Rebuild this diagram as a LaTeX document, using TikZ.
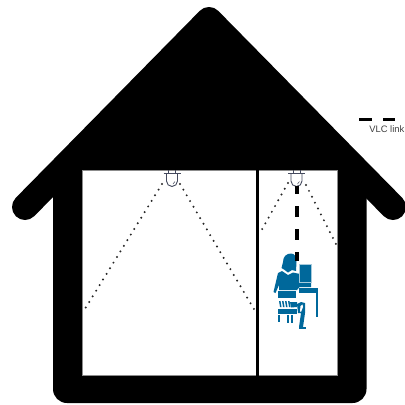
\documentclass[tikz,border=0pt]{standalone}
\usepackage{fontspec}
\setmainfont{Liberation Sans}
\usepackage{xcolor}
\usetikzlibrary{arrows.meta,positioning,calc}
\definecolor{lampgray}{HTML}{454A5E}
\definecolor{deskblue}{HTML}{00689B}
\definecolor{linkgray}{HTML}{404040}

\begin{document}
\begin{tikzpicture}[x=1pt, y=-1pt, every node/.style={font=\fontsize{9.4pt}{11pt}\selectfont}]
\tikzset{room/.style={fill=white, draw=black!45, line width=0.6pt}}
\tikzset{cone/.style={draw=black!85, line width=2.2pt, line cap=round, dash pattern=on 0pt off 6.6pt}}
\tikzset{vlc/.style={draw=black, line width=4pt, dash pattern=on 11pt off 12pt}}
\tikzset{lampline/.style={draw=lampgray, line width=0.9pt}}
\tikzset{person/.style={fill=deskblue}}
\useasboundingbox (0,0) rectangle (405,405);

% house outline
\draw[black, line width=26pt, line join=round, line cap=round] (25,207) -- (209,20) -- (393,207);
\fill[black] (53,178) -- (209,20) -- (366.5,178) -- cycle;
\fill[black, rounded corners=14pt] (53,178) -- (53,403) -- (366.5,403) -- (366.5,178);
\draw[room] (82.3,170) rectangle (337.7,375.5);
\fill[black] (255.7,169) rectangle (259.3,376);

% lamps
\foreach \lampx/\lampname in {172/lampA, 296.5/lampB} {
  \coordinate (\lampname) at (\lampx,186);
  \draw[lampline] (\lampx-3.5,170) -- (\lampx-3.5,173) (\lampx+3.5,170) -- (\lampx+3.5,173);
  \draw[lampline] (\lampx-8.5,173) -- (\lampx+8.5,173);
  \draw[lampline] (\lampx-5.5,173) -- (\lampx-5.5,181) arc[start angle=180, end angle=0, radius=5.5] -- (\lampx+5.5,173);
  \draw[lampline, line width=0.5pt] (\lampx+1,184) -- (\lampx+3,181.5);
}

% light cones
\coordinate (coneAl) at (85.5,308);
\coordinate (coneAr) at (254.5,310);
\coordinate (coneBl) at (260.5,232);
\coordinate (coneBr) at (337.5,247);
\draw[cone] ($(lampA)+(-10,-2)$) -- (coneAl);
\draw[cone] ($(lampA)+(8,-2)$) -- (coneAr);
\draw[cone] ($(lampB)+(-8.5,-3)$) -- (coneBl);
\draw[cone] ($(lampB)+(9.5,-1)$) -- (coneBr);

% person at the desk
\coordinate (user) at (296.5,261);
\fill[person] (283,262) .. controls (283,256) and (287,253.5) .. (291,253.5) .. controls (295,253.5) and (296.5,257) .. (296.5,262) -- (296,271) -- (292,270) -- (288,272.5) -- (284,269.5) -- (281.5,268) -- cycle;
\fill[person] (278,273) -- (282,271) -- (288,275) -- (293,272.5) -- (300,274) -- (303,283) -- (311,283) -- (311,287) -- (299.5,287) -- (297,290) -- (279,290) -- (279,285) -- (275.5,293) -- (273.5,292) -- cycle;
\fill[person] (278,291) rectangle (296,298);
\fill[person, draw=deskblue!35, line width=0.7pt] (299,264) rectangle (311,282);
\fill[person] (299,288) rectangle (318,293);
\fill[person] (315.5,293) rectangle (318,317);
\foreach \slatx in {279,282,285,288} {
  \fill[person] (\slatx,301) -- (\slatx+1.5,301) -- (\slatx+2.5,307) -- (\slatx+1,307) -- cycle;
}
\fill[person] (290,302) -- (297,302) -- (297,307) -- (291,307.5) -- cycle;
\fill[person] (278,309) rectangle (296.5,314);
\fill[person] (297,304) -- (301,302) -- (305,303) -- (305,313) -- (303,327) -- (299,327) -- (301,313) -- (298,313) -- cycle;
\fill[white] (300.5,306) -- (302.5,304.5) -- (303,307) -- (301,312) -- (300,311) -- cycle;
\fill[person] (278,315) rectangle (279.5,322);
\fill[person] (287,315) rectangle (289,323);
\fill[person] (291,315) rectangle (293,323);
\fill[person] (299,327) rectangle (306,329);

% VLC link
\draw[vlc, dash phase=3pt] (lampB) -- (user);

% legend
\coordinate (keyA) at (359,119.5);
\coordinate (keyB) at (395,119.5);
\draw[draw=black, line width=3pt, dash pattern=on 13pt off 11pt] (keyA) -- (keyB);
\node[text=linkgray, inner sep=0pt, anchor=north east] (keylabel) at (404.5,125.5) {VLC link};
\end{tikzpicture}
\end{document}
